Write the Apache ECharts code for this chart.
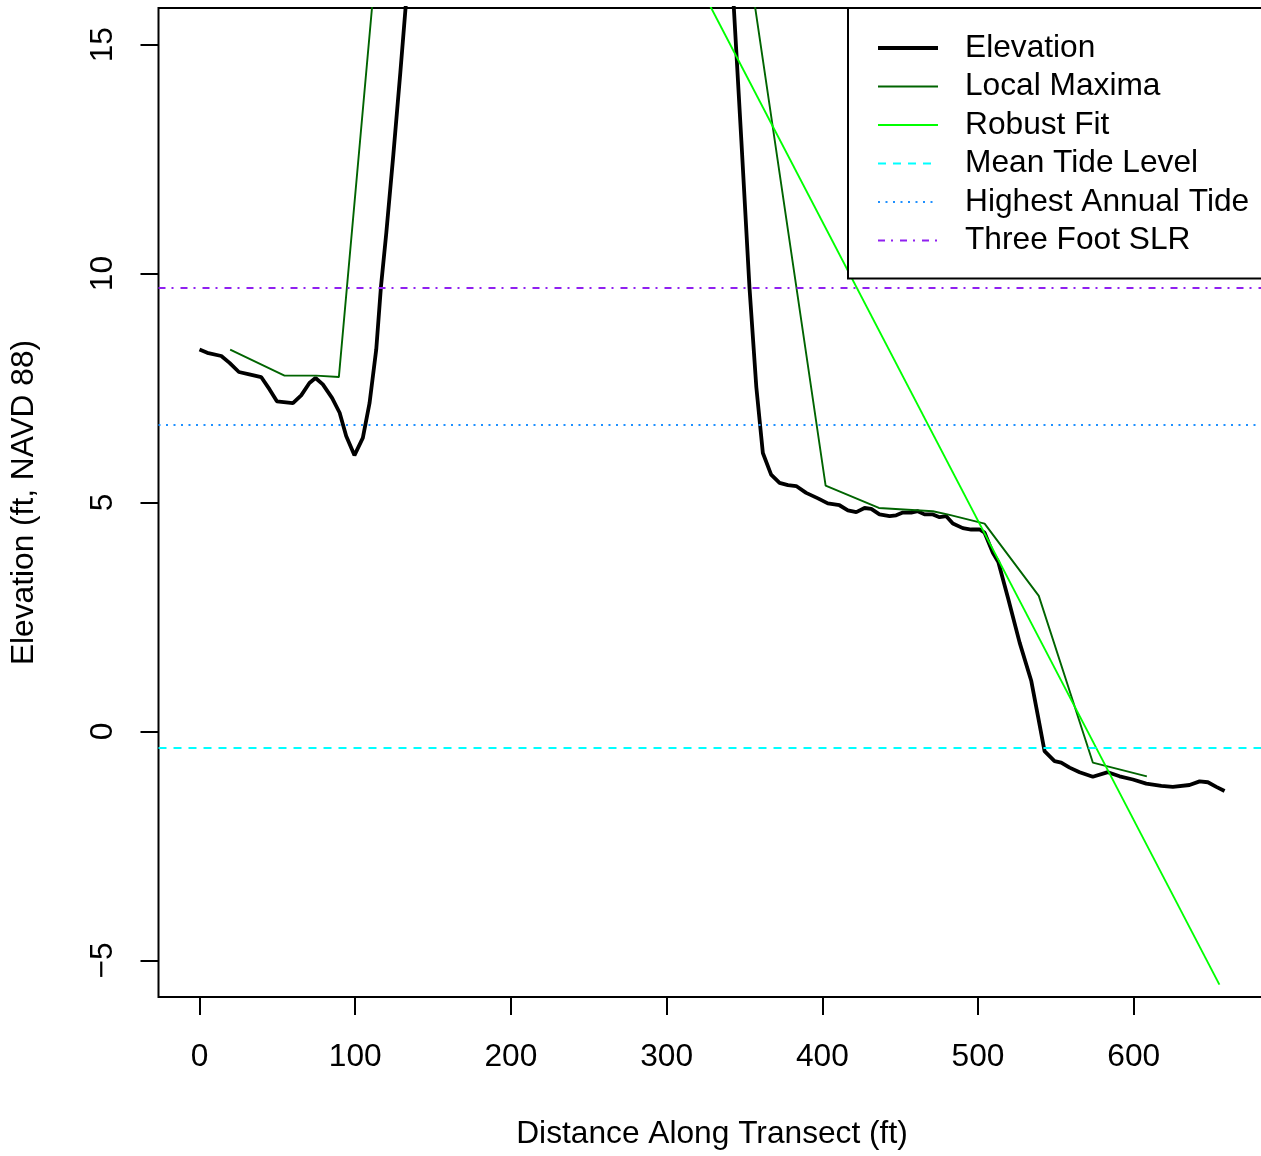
<!DOCTYPE html>
<html>
<head>
<meta charset="utf-8">
<script src="https://cdn.jsdelivr.net/npm/echarts@6/dist/echarts.min.js"></script>
<style>
html,body{margin:0;padding:0;background:#fff;overflow:hidden;}
#chart{width:1261px;height:1156px;}
</style>
</head>
<body>
<div id="chart"></div>
<script>
// Elevation profile (ft along transect, ft NAVD 88)
const elevDistance = [0,5,14,19.3,25.3,32,39.6,45,49.7,60,65.3,70.6,74.5,79.2,85.2,90,94.2,99.5,104.9,109.2,113.5,116.5,120,124.5,129,134,140,145,335,341.5,348,353.2,357.6,361.8,367.1,372.5,377.9,383.2,389.6,397.2,403.5,411,416.4,421.8,427.1,431.4,436.7,443.2,447.4,451.7,457.1,461.3,465.6,471,475.3,479.6,483.8,490.2,495.6,501,504.2,509.5,513,519.2,526.7,534.2,538.5,542.7,549.1,553.4,558.8,565.2,573.7,583.4,590.9,599.4,608,617.7,625.1,635.8,642.3,647.6,653,658.3];
const elevValue = [8.34,8.27,8.20,8.05,7.85,7.80,7.74,7.47,7.21,7.17,7.34,7.61,7.72,7.58,7.28,6.96,6.45,6.03,6.41,7.17,8.34,9.7,10.9,12.6,14.4,16.5,19,20,20,16.8,12.9,9.7,7.52,6.08,5.61,5.43,5.38,5.36,5.21,5.09,4.98,4.94,4.83,4.79,4.88,4.86,4.74,4.70,4.72,4.78,4.78,4.81,4.74,4.74,4.68,4.70,4.54,4.44,4.41,4.41,4.34,3.90,3.70,2.92,1.94,1.10,0.33,-0.43,-0.65,-0.68,-0.79,-0.89,-0.99,-0.89,-0.98,-1.05,-1.14,-1.19,-1.21,-1.17,-1.09,-1.11,-1.21,-1.30];
// Local maxima
const maxDistance = [19.7,54.6,74.9,89.5,120,340,402.1,436.3,471,481.7,504.2,539,573.7,608.4];
const maxValue = [8.34,7.77,7.77,7.74,19.3,19.7,5.37,4.88,4.81,4.73,4.54,2.96,-0.68,-0.98];
// Robust fit line end points
const fitDistance = [300,655];
const fitValue = [17.67,-5.53];
// Reference levels
const meanTideLevel = -0.35;
const highestAnnualTide = 6.70;
const threeFootSLR = 9.70;
// Tick labels
const xTicks = [0,100,200,300,400,500,600];
const yTicks = [-5,0,5,10,15];

const zip = (a,b) => a.map((v,i)=>[v,b[i]]);
const FONT = 'Liberation Sans, Arial, Helvetica, sans-serif';
const FS = 31.7;
const fmt = v => String(v).replace('-', '\u2212');

const chart = echarts.init(document.getElementById('chart'), null, {renderer:'canvas'});
const hline = (name, value, color, type, width) => ({
  name, type:'line', data:[], showSymbol:false, symbol:'none',
  lineStyle:{color, type, width},
  itemStyle:{color},
  markLine:{silent:true, symbol:'none', label:{show:false},
    lineStyle:{color, type, width}, emphasis:{disabled:true},
    data:[{yAxis:value}]},
  z:3
});

chart.setOption({
  animation:false,
  backgroundColor:'#fff',
  grid:{left:158.5, top:8, width:1107, height:989, show:true, borderColor:'#000', borderWidth:2,
        backgroundColor:'transparent', containLabel:false, outerBoundsMode:'none'},
  xAxis:{
    type:'value', min:-26.33, max:684.6,
    splitLine:{show:false},
    axisLine:{show:false, onZero:false},
    axisTick:{show:true, inside:false, length:18, lineStyle:{color:'#000', width:2}, customValues:xTicks},
    axisLabel:{color:'#000', fontFamily:FONT, fontSize:FS, margin:44, customValues:xTicks, formatter:fmt},
    name:'Distance Along Transect (ft)', nameLocation:'middle', nameGap:121,
    nameTextStyle:{color:'#000', fontFamily:FONT, fontSize:FS}
  },
  yAxis:{
    type:'value', min:-5.8, max:15.8,
    splitLine:{show:false},
    axisLine:{show:false, onZero:false},
    axisTick:{show:true, inside:false, length:18, lineStyle:{color:'#000', width:2}, customValues:yTicks},
    axisLabel:{color:'#000', fontFamily:FONT, fontSize:FS, margin:39, rotate:90, customValues:yTicks, formatter:fmt},
    name:'Elevation (ft, NAVD 88)', nameLocation:'middle', nameGap:118, nameRotate:90,
    nameTextStyle:{color:'#000', fontFamily:FONT, fontSize:FS}
  },
  legend:{
    orient:'vertical', left:848, top:8,
    padding:[24,18,22,28],
    itemWidth:60, itemHeight:20, itemGap:6.5,
    borderColor:'#000', borderWidth:2, backgroundColor:'#fff',
    itemStyle:{opacity:0, borderWidth:0},
    lineStyle:{width:1.9},
    textStyle:{color:'#000', fontFamily:FONT, fontSize:FS, padding:[0,0,0,22]},
    data:[
      {name:'Elevation', lineStyle:{width:4}},
      {name:'Local Maxima', lineStyle:{width:1.9}},
      {name:'Robust Fit', lineStyle:{width:1.9}},
      {name:'Mean Tide Level', lineStyle:{width:1.9}},
      {name:'Highest Annual Tide', lineStyle:{width:1.9}},
      {name:'Three Foot SLR', lineStyle:{width:1.9}}
    ]
  },
  series:[
    {name:'Elevation', type:'line', data:zip(elevDistance, elevValue), showSymbol:false, symbol:'none',
     clip:true, lineStyle:{color:'#000', width:3.8}, itemStyle:{color:'#000'}, z:2},
    {name:'Local Maxima', type:'line', data:zip(maxDistance, maxValue), showSymbol:false, symbol:'none',
     clip:true, lineStyle:{color:'#006400', width:1.9}, itemStyle:{color:'#006400'}, z:3},
    {name:'Robust Fit', type:'line', data:zip(fitDistance, fitValue), showSymbol:false, symbol:'none',
     clip:true, lineStyle:{color:'#00FF00', width:1.9}, itemStyle:{color:'#00FF00'}, z:3},
    hline('Mean Tide Level', meanTideLevel, '#00FFFF', [8,7], 1.9),
    hline('Highest Annual Tide', highestAnnualTide, '#1E90FF', [2,5.5], 1.9),
    hline('Three Foot SLR', threeFootSLR, '#9020F0', [7,6,2,7], 1.9)
  ]
});
</script>
</body>
</html>
